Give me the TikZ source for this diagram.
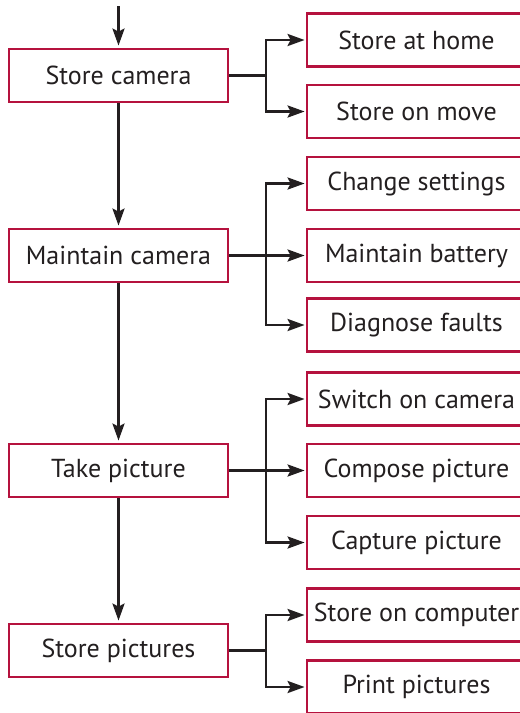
\documentclass[tikz,border=0pt]{standalone}
\usepackage{fontspec}
\setmainfont{PT Sans}
\usetikzlibrary{arrows.meta}
\definecolor{boxred}{HTML}{B5123E}
\definecolor{ink}{HTML}{231F20}
\begin{document}
\begin{tikzpicture}[x=1pt,y=-1pt,
  box/.style={draw=boxred, line width=2.8pt, fill=white, minimum width=219pt, minimum height=53pt, inner sep=0pt, font=\fontsize{26}{30}\selectfont, text=ink},
  conn/.style={draw=ink, line width=2.8pt},
  arr/.style={conn, -{Stealth[length=17pt,width=12pt,inset=3pt]}}]
\useasboundingbox (0,0) rectangle (520,713);
\clip (0,0) rectangle (520,713);
% main column
\node[box] (sc) at (118.5,75.5) {Store camera};
\node[box] (mc) at (118.5,255.5) {Maintain camera};
\node[box] (tp) at (118.5,470.5) {Take picture};
\node[box] (sp) at (118.5,650.5) {Store pictures};
% sub tasks
\node[box] (sah) at (416.5,40) {Store at home};
\node[box] (som) at (416.5,111.5) {Store on move};
\node[box] (cs) at (416.5,183.5) {Change settings};
\node[box] (mb) at (416.5,255.5) {Maintain battery};
\node[box] (df) at (416.5,325) {Diagnose faults};
\node[box] (sw) at (416.5,399) {Switch on camera};
\node[box] (cp) at (416.5,470.5) {Compose picture};
\node[box] (ca) at (416.5,542.5) {Capture picture};
\node[box] (soc) at (416.5,615) {Store on computer};
\node[box] (pp) at (416.5,687) {Print pictures};
% vertical flow
\coordinate (start) at (118.5,6);
\draw[arr, shorten >=2pt] (start) -- (sc.north);
\draw[arr, shorten >=2pt] (sc.south) -- (mc.north);
\draw[arr, shorten >=2pt] (mc.south) -- (tp.north);
\draw[arr, shorten >=2pt] (tp.south) -- (sp.north);
% branches
\coordinate (j1) at (266,75.5);
\draw[conn] (sc.east) -- (j1);
\draw[arr, shorten >=1pt] (j1) |- (sah.west);
\draw[arr, shorten >=1pt] (j1) |- (som.west);
\coordinate (j2) at (266,255.5);
\draw[arr, shorten >=1pt] (mc.east) -- (mb.west);
\draw[arr, shorten >=1pt] (j2) |- (cs.west);
\draw[arr, shorten >=1pt] (j2) |- (df.west);
\coordinate (j3) at (266,470.5);
\draw[arr, shorten >=1pt] (tp.east) -- (cp.west);
\draw[arr, shorten >=1pt] (j3) |- (sw.west);
\draw[arr, shorten >=1pt] (j3) |- (ca.west);
\coordinate (j4) at (266,650.5);
\draw[conn] (sp.east) -- (j4);
\draw[arr, shorten >=1pt] (j4) |- (soc.west);
\draw[arr, shorten >=1pt] (j4) |- (pp.west);
\end{tikzpicture}
\end{document}
